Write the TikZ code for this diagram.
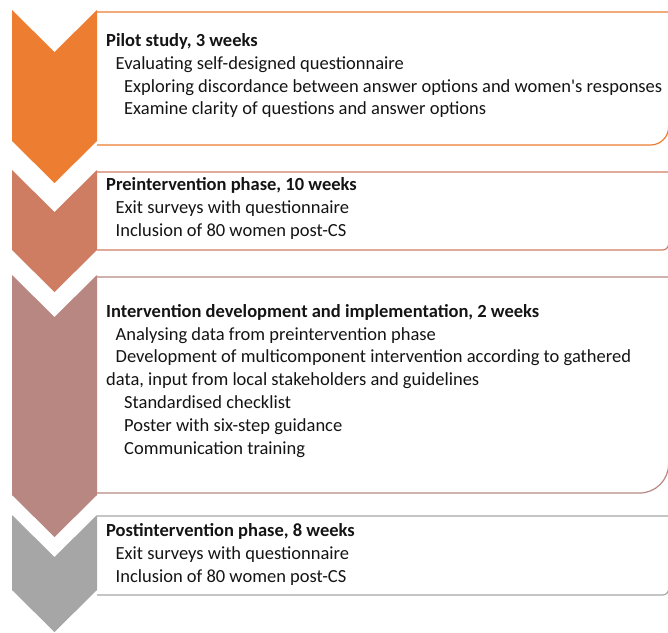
\documentclass[tikz,border=0pt]{standalone}
\usepackage{fontspec}
\newfontfamily\carl{Carlito}
\definecolor{cA}{RGB}{237,125,49}
\definecolor{cB}{RGB}{206,124,98}
\definecolor{cC}{RGB}{185,135,130}
\definecolor{cD}{RGB}{166,166,166}
\definecolor{txt}{RGB}{20,20,20}
\tikzset{
  ln/.style={anchor=base west, inner sep=0pt, text=txt, font=\carl\fontsize{18.5}{22}\selectfont},
  hd/.style={ln, font=\carl\fontsize{18.5}{22}\selectfont\bfseries},
  boxline/.style={line width=1.2pt},
}
\begin{document}
\begin{tikzpicture}[x=1pt,y=-1pt]
\useasboundingbox (0,0) rectangle (668,632);
% boxes
\draw[boxline, draw=cA] (97,12) -- (668.6,12) -- (668.6,127) arc (0:90:18) -- (97,145);
\draw[boxline, draw=cB] (97,172) -- (668.6,172) -- (668.6,244) arc (0:90:6) -- (97,250);
\draw[boxline, draw=cC] (97,277) -- (668.6,277) -- (668.6,464) arc (0:90:29) -- (97,493);
\draw[boxline, draw=cD] (97,516) -- (668.6,516) -- (668.6,589) arc (0:90:6) -- (97,595);
% chevrons
\fill[cA] (12,10) -- (54.5,52) -- (97,10) -- (97,141) -- (54.5,183) -- (12,141) -- cycle;
\fill[cB] (12,170) -- (54.5,212) -- (97,170) -- (97,250) -- (54.5,292) -- (12,250) -- cycle;
\fill[cC] (12,275) -- (54.5,317) -- (97,275) -- (97,495) -- (54.5,537) -- (12,495) -- cycle;
\fill[cD] (12,515) -- (54.5,557) -- (97,515) -- (97,590) -- (54.5,632) -- (12,590) -- cycle;
% text box 1
\node[hd] (a1) at (106,46) {Pilot study, 3 weeks};
\node[ln] (a2) at (115.5,69) {Evaluating self-designed questionnaire};
\node[ln] (a3) at (124,92) {Exploring discordance between answer options and women's responses};
\node[ln] (a4) at (124,114.5) {Examine clarity of questions and answer options};
% text box 2
\node[hd] (b1) at (106,190) {Preintervention phase, 10 weeks};
\node[ln] (b2) at (115.5,213) {Exit surveys with questionnaire};
\node[ln] (b3) at (115.5,236) {Inclusion of 80 women post-CS};
% text box 3
\node[hd] (c1) at (106,317) {Intervention development and implementation, 2 weeks};
\node[ln] (c2) at (115.5,340) {Analysing data from preintervention phase};
\node[ln] (c3) at (115.5,362.5) {Development of multicomponent intervention according to gathered};
\node[ln] (c4) at (106,385) {data, input from local stakeholders and guidelines};
\node[ln] (c5) at (124,408) {Standardised checklist};
\node[ln] (c6) at (124,431) {Poster with six-step guidance};
\node[ln] (c7) at (124,454) {Communication training};
% text box 4
\node[hd] (d1) at (106,536) {Postintervention phase, 8 weeks};
\node[ln] (d2) at (115.5,559) {Exit surveys with questionnaire};
\node[ln] (d3) at (115.5,582) {Inclusion of 80 women post-CS};
\end{tikzpicture}
\end{document}
